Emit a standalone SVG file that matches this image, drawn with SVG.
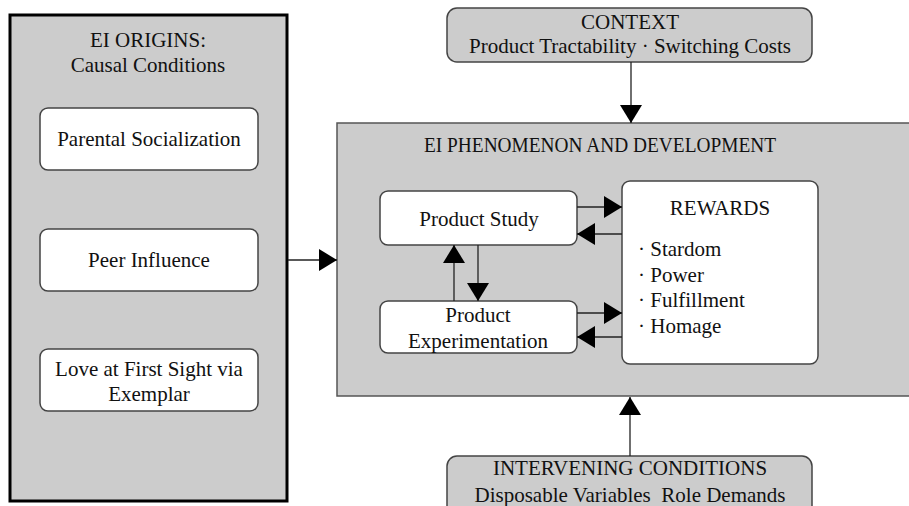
<svg xmlns="http://www.w3.org/2000/svg" width="909" height="506" viewBox="0 0 909 506">
<defs>
<style>
text{font-family:"Liberation Serif","Times New Roman",serif;font-size:21px;fill:#111;text-anchor:middle;dominant-baseline:central;white-space:pre}
.panel{fill:#cccccc}
.box{fill:#fff;stroke:#444;stroke-width:1.5}
.gbox{fill:#cccccc;stroke:#444;stroke-width:1.5}
.ln{stroke:#222;stroke-width:1.3;fill:none}
.lt{text-anchor:start}
</style>
<marker id="ah" viewBox="0 0 10 10" refX="10" refY="5" markerWidth="18" markerHeight="22" markerUnits="userSpaceOnUse" orient="auto" preserveAspectRatio="none">
<path d="M0,0 L10,5 L0,10 Z" fill="#000"/>
</marker>
</defs>
<rect width="909" height="506" fill="#fff"/>

<g id="origins">
<rect x="10" y="15" width="277" height="486" class="panel" stroke="#000" stroke-width="3"/>
<text x="148" y="40">EI ORIGINS:</text>
<text x="148" y="65">Causal Conditions</text>
</g>
<g id="parental">
<rect x="40" y="108" width="218" height="62" rx="8" class="box"/>
<text x="149" y="139">Parental Socialization</text>
</g>
<g id="peer">
<rect x="40" y="229" width="218" height="62" rx="8" class="box"/>
<text x="149" y="260">Peer Influence</text>
</g>
<g id="love">
<rect x="40" y="349" width="218" height="62" rx="8" class="box"/>
<text x="149" y="369">Love at First Sight via</text>
<text x="149" y="394">Exemplar</text>
</g>

<g id="context">
<rect x="447" y="8" width="365" height="54" rx="10" class="gbox"/>
<text x="630" y="22">CONTEXT</text>
<text x="630" y="46">Product Tractability · Switching Costs</text>
</g>

<g id="phenomenon">
<rect x="337" y="123" width="580" height="273" class="panel" stroke="#555" stroke-width="1.5"/>
<text x="600" y="145" textLength="352" lengthAdjust="spacingAndGlyphs">EI PHENOMENON AND DEVELOPMENT</text>
</g>
<g id="study">
<rect x="380" y="191" width="197" height="54" rx="8" class="box"/>
<text x="479" y="219">Product Study</text>
</g>
<g id="experimentation">
<rect x="380" y="301" width="197" height="52" rx="8" class="box"/>
<text x="478" y="315">Product</text>
<text x="478" y="341">Experimentation</text>
</g>
<g id="rewards">
<rect x="622" y="181" width="196" height="183" rx="8" class="box"/>
<text x="720" y="208">REWARDS</text>
<text class="lt" x="638" y="249">· Stardom</text>
<text class="lt" x="638" y="275">· Power</text>
<text class="lt" x="638" y="300">· Fulfillment</text>
<text class="lt" x="638" y="326">· Homage</text>
</g>

<g id="intervening">
<rect x="447" y="456" width="365" height="64" rx="10" class="gbox"/>
<text x="630" y="468">INTERVENING CONDITIONS</text>
<text x="630" y="495">Disposable Variables  Role Demands</text>
</g>

<g id="connectors">
<line class="ln" x1="288" y1="260" x2="337" y2="260" marker-end="url(#ah)"/>
<line class="ln" x1="631" y1="62" x2="631" y2="123" marker-end="url(#ah)"/>
<line class="ln" x1="630" y1="456" x2="630" y2="397" marker-end="url(#ah)"/>
<line class="ln" x1="577" y1="207" x2="622" y2="207" marker-end="url(#ah)"/>
<line class="ln" x1="622" y1="234" x2="577" y2="234" marker-end="url(#ah)"/>
<line class="ln" x1="577" y1="313" x2="622" y2="313" marker-end="url(#ah)"/>
<line class="ln" x1="622" y1="337" x2="577" y2="337" marker-end="url(#ah)"/>
<line class="ln" x1="454" y1="301" x2="454" y2="245" marker-end="url(#ah)"/>
<line class="ln" x1="478" y1="245" x2="478" y2="301" marker-end="url(#ah)"/>
</g>
</svg>
